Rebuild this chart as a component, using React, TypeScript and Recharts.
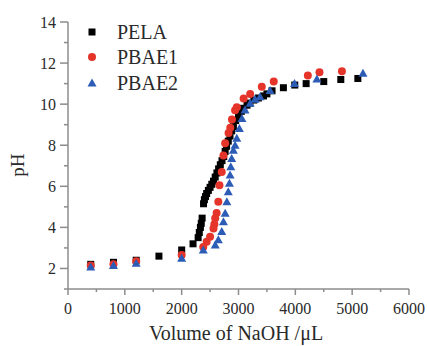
import { ScatterChart, Scatter, XAxis, YAxis, Legend } from 'recharts';

// [volume of NaOH (uL), pH]
const pela: [number, number][] = [
  [400, 2.2], [800, 2.3], [1200, 2.4], [1600, 2.6], [2000, 2.9], [2200, 3.2],
  [2290, 3.5], [2310, 3.75], [2330, 4.0], [2345, 4.2], [2360, 4.45],
  [2385, 5.15], [2400, 5.35], [2420, 5.5], [2440, 5.65], [2470, 5.8], [2500, 5.95],
  [2530, 6.1], [2560, 6.25], [2590, 6.45], [2620, 6.65], [2650, 6.85], [2680, 7.05],
  [2710, 7.25], [2740, 7.45], [2765, 7.7], [2790, 7.95], [2820, 8.2], [2850, 8.45],
  [2880, 8.7], [2910, 8.9], [2950, 9.2], [3000, 9.45], [3050, 9.65], [3090, 9.8],
  [3150, 9.95], [3200, 10.05], [3270, 10.2], [3350, 10.3], [3440, 10.4], [3500, 10.5],
  [3590, 10.65], [3790, 10.8], [3990, 10.93], [4190, 11.0], [4500, 11.1], [4800, 11.2],
  [5100, 11.25],
];

const pbae1: [number, number][] = [
  [400, 2.15], [800, 2.2], [1200, 2.35], [2000, 2.65], [2380, 3.05], [2440, 3.3],
  [2500, 3.55], [2560, 3.95], [2575, 4.15], [2590, 4.44], [2615, 4.7], [2645, 5.25],
  [2665, 6.05], [2705, 6.7], [2735, 7.5], [2765, 8.1], [2825, 8.6], [2855, 8.85],
  [2885, 9.25], [2940, 9.7], [2970, 9.85], [3090, 10.28], [3205, 10.5], [3410, 10.85],
  [3620, 11.1], [4220, 11.4], [4425, 11.55], [4820, 11.6],
];

const pbae2: [number, number][] = [
  [400, 2.07], [800, 2.15], [1200, 2.25], [2000, 2.5], [2380, 2.9], [2590, 3.14],
  [2645, 3.4], [2705, 3.8], [2735, 4.28], [2765, 4.69], [2795, 5.25], [2820, 5.74],
  [2840, 6.15], [2852, 6.55], [2864, 6.95], [2880, 7.36], [2910, 7.75], [2940, 8.0],
  [2970, 8.34], [3015, 8.82], [3060, 9.3], [3115, 9.72], [3205, 10.04], [3290, 10.24],
  [3380, 10.36], [3555, 10.66], [3985, 11.0], [4380, 11.22], [5190, 11.5],
];

const xTicks = [0, 500, 1000, 1500, 2000, 2500, 3000, 3500, 4000, 4500, 5000, 5500, 6000];
const yTicks = [1, 2, 3, 4, 5, 6, 7, 8, 9, 10, 11, 12, 13, 14];

const SERIF = '"Liberation Serif", "Times New Roman", serif';
const AXIS = '#8c8c8c';
const TEXT = '#2a2a2a';
const RED = '#e5352b';
const BLUE = '#2c5cb6';

const toPoints = (d: [number, number][]) => d.map(([v, ph]) => ({ v, ph }));

const Square = (p: any) => <rect x={p.cx - 3.5} y={p.cy - 3.5} width={7} height={7} fill="#000" />;
const Dot = (p: any) => <circle cx={p.cx} cy={p.cy} r={4} fill={RED} />;
const Tri = (p: any) => (
  <polygon points={`${p.cx},${p.cy - 4.5} ${p.cx - 4.5},${p.cy + 3.5} ${p.cx + 4.5},${p.cy + 3.5}`} fill={BLUE} />
);

const series = [
  { name: 'PELA', data: pela, color: '#000', shape: Square },
  { name: 'PBAE1', data: pbae1, color: RED, shape: Dot },
  { name: 'PBAE2', data: pbae2, color: BLUE, shape: Tri },
];

const XTick = ({ x, y, payload }: any) => {
  const major = payload.value % 1000 === 0;
  return (
    <g>
      <line x1={x} x2={x} y1={y} y2={y + (major ? 6 : 3)} stroke={AXIS} strokeWidth={1.5} />
      {major && (
        <text x={x} y={y + 19} dy="0.35em" textAnchor="middle" fontSize={16} fontFamily={SERIF} fill={TEXT}>
          {payload.value}
        </text>
      )}
    </g>
  );
};

const YTick = ({ x, y, payload }: any) => {
  const major = payload.value % 2 === 0;
  return (
    <g>
      <line x1={x} x2={x - (major ? 8 : 4)} y1={y} y2={y} stroke={AXIS} strokeWidth={1.5} />
      {major && (
        <text x={x - 12} y={y} dy="0.35em" textAnchor="end" fontSize={16} fontFamily={SERIF} fill={TEXT}>
          {payload.value}
        </text>
      )}
    </g>
  );
};

const LegendBox = () => (
  <div style={{ fontFamily: SERIF, color: TEXT }}>
    {series.map((s) => {
      const Shape = s.shape;
      return (
        <div key={s.name} style={{ display: 'flex', alignItems: 'center', height: 25.5 }}>
          <svg width={16} height={16}>
            <Shape cx={8} cy={8} />
          </svg>
          <span style={{ marginLeft: 17, fontSize: 20, lineHeight: '20px' }}>{s.name}</span>
        </div>
      );
    })}
  </div>
);

export default function App() {
  return (
    <div style={{ position: 'absolute', left: 0, top: 0, width: 427, height: 346, background: '#fff' }}>
      <ScatterChart width={427} height={346} margin={{ top: 22, right: 18, left: 0, bottom: 0 }}>
        <XAxis
          type="number"
          dataKey="v"
          domain={[0, 6000]}
          ticks={xTicks}
          interval={0}
          height={57}
          tickSize={0}
          tickMargin={0}
          tickLine={false}
          axisLine={{ stroke: AXIS, strokeWidth: 1.5 }}
          tick={<XTick />}
          label={{
            content: () => (
              <text x={236} y={340} textAnchor="middle" fontSize={20} fontFamily={SERIF} fill={TEXT}>
                Volume of NaOH /μL
              </text>
            ),
          }}
        />
        <YAxis
          type="number"
          dataKey="ph"
          domain={[1, 14]}
          ticks={yTicks}
          interval={0}
          width={68}
          tickSize={0}
          tickMargin={0}
          tickLine={false}
          axisLine={{ stroke: AXIS, strokeWidth: 1.5 }}
          tick={<YTick />}
          label={{
            content: () => (
              <text
                x={17}
                y={165}
                transform="rotate(-90 17 165)"
                textAnchor="middle"
                dominantBaseline="central"
                fontSize={19}
                fontFamily={SERIF}
                fill={TEXT}
              >
                pH
              </text>
            ),
          }}
        />
        <Legend
          layout="vertical"
          align="center"
          verticalAlign="middle"
          wrapperStyle={{ top: 19, left: 84, width: 'auto' }}
          content={<LegendBox />}
        />
        {series.map((s) => (
          <Scatter
            key={s.name}
            name={s.name}
            data={toPoints(s.data)}
            fill={s.color}
            shape={s.shape}
            isAnimationActive={false}
          />
        ))}
      </ScatterChart>
    </div>
  );
}
